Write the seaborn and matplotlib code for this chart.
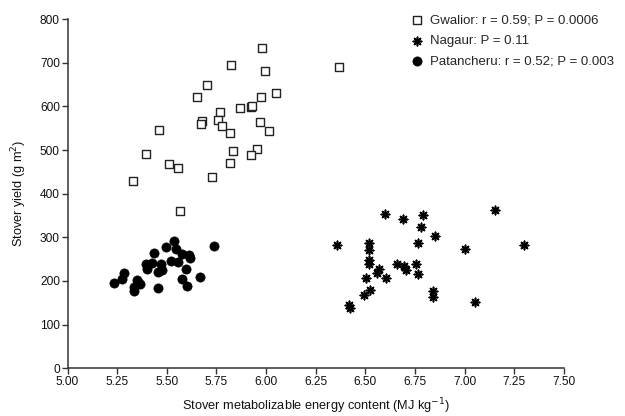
import matplotlib
matplotlib.use("Agg")
import matplotlib.pyplot as plt
import seaborn as sns
import pandas as pd

gwalior_x = [5.979, 5.823, 5.993, 6.366, 5.704, 5.650, 6.048, 5.976, 5.766, 5.870,
             5.925, 5.930, 5.678, 5.673, 5.759, 5.778, 5.968, 5.462, 6.015, 5.820,
             5.393, 5.832, 5.956, 5.922, 5.511, 5.559, 5.817, 5.331, 5.727, 5.569]
gwalior_y = [733, 694, 681, 691, 649, 622, 631, 621, 588, 597,
             598, 602, 567, 560, 569, 556, 565, 547, 544, 538,
             490, 498, 503, 488, 469, 458, 470, 430, 438, 360]

nagaur_x = [6.356, 6.599, 6.688, 6.792, 6.781, 6.850, 6.767, 7.154, 7.300, 7.001,
            6.519, 6.520, 6.519, 6.520, 6.661, 6.697, 6.705, 6.757, 6.767, 6.571,
            6.557, 6.604, 6.502, 6.525, 6.494, 6.416, 6.423, 6.840, 6.840, 7.051]
nagaur_y = [283, 354, 341, 351, 323, 302, 288, 363, 283, 273,
            286, 271, 247, 239, 239, 234, 225, 239, 217, 228,
            219, 208, 206, 179, 168, 145, 139, 176, 164, 153]

patan_x = [5.537, 5.495, 5.546, 5.737, 5.438, 5.575, 5.613, 5.616, 5.522, 5.557,
           5.395, 5.428, 5.469, 5.401, 5.474, 5.455, 5.598, 5.287, 5.274, 5.232,
           5.351, 5.364, 5.334, 5.334, 5.575, 5.667, 5.600, 5.457, 5.355]
patan_y = [292, 277, 273, 280, 264, 262, 260, 252, 246, 243,
           238, 242, 238, 228, 225, 220, 228, 219, 204, 195,
           202, 192, 187, 176, 205, 209, 189, 184, 198]

labels = ["Gwalior: r = 0.59; P = 0.0006", "Nagaur: P = 0.11",
          "Patancheru: r = 0.52; P = 0.003"]
x_ticks = [5.00, 5.25, 5.50, 5.75, 6.00, 6.25, 6.50, 6.75, 7.00, 7.25, 7.50]
y_ticks = [0, 100, 200, 300, 400, 500, 600, 700, 800]

sns.set_style("ticks")
plt.rcParams['font.family'] = ['Liberation Sans', 'DejaVu Sans']

fig = plt.figure(figsize=(6.25, 4.16), dpi=100)
ax = fig.add_axes([0.108, 0.1147, 0.794, 0.8393])

dg = pd.DataFrame({"x": gwalior_x, "y": gwalior_y})
dn = pd.DataFrame({"x": nagaur_x, "y": nagaur_y})
dp = pd.DataFrame({"x": patan_x, "y": patan_y})

sns.scatterplot(data=dg, x="x", y="y", ax=ax, marker="s", s=40,
                facecolor="white", edgecolor="#222222", linewidth=1.0,
                label=labels[0], zorder=3)
sns.scatterplot(data=dn, x="x", y="y", ax=ax, marker=(8, 2, 0), s=36,
                color="black", edgecolor="black", linewidth=1.2,
                label=labels[1], zorder=3)
sns.scatterplot(data=dp, x="x", y="y", ax=ax, marker="o", s=44,
                color="black", edgecolor="black", linewidth=0.5,
                label=labels[2], zorder=3)

ax.set_xlim(5.0, 7.5)
ax.set_ylim(0, 800)
ax.set_xticks(x_ticks)
ax.set_xticklabels([f"{t:.2f}" for t in x_ticks])
ax.set_yticks(y_ticks)
ax.tick_params(axis="both", labelsize=8.6, length=4, width=1, color="#333333",
               direction="out", pad=1.5, labelcolor="#111111")
for sp in ["left", "bottom"]:
    ax.spines[sp].set_linewidth(1.1)
    ax.spines[sp].set_color("#333333")
sns.despine(ax=ax)

ax.set_xlabel("Stover metabolizable energy content (MJ kg$^{-1}$)", fontsize=9.2,
              labelpad=6, color="#111111")
ax.set_ylabel("Stover yield (g m$^{2}$)", fontsize=9.2, labelpad=8, color="#111111")

leg = ax.legend(loc="upper left", bbox_to_anchor=(0.678, 1.028), frameon=False,
                fontsize=9.5, handletextpad=0.4, labelspacing=0.6,
                borderaxespad=0, handlelength=1.2)

fig.savefig("out.png", dpi=100)
